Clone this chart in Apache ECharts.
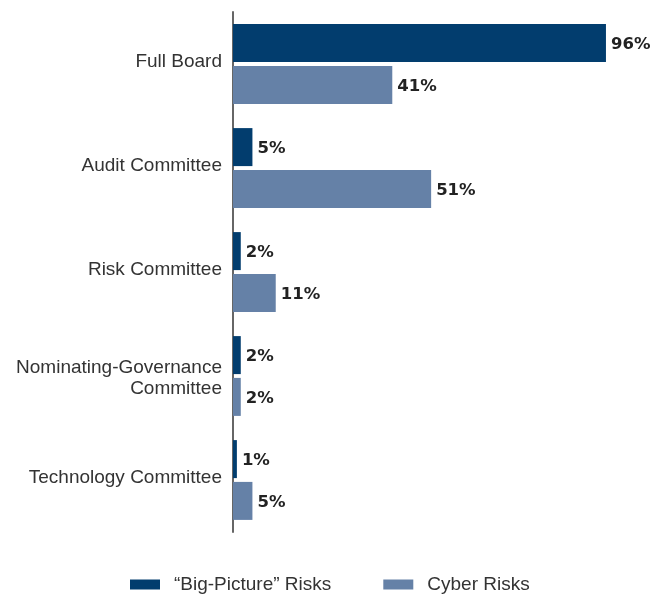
<!DOCTYPE html>
<html><head><meta charset="utf-8">
<script src="https://cdn.jsdelivr.net/npm/echarts@6/dist/echarts.min.js"></script>
<style>html,body{margin:0;padding:0;background:#fff}#c{width:664px;height:595px}</style>
</head><body><div id="c"></div>
<script>
const categories = ["Full Board", "Audit Committee", "Risk Committee", "Nominating-Governance\nCommittee", "Technology Committee"];
const bigPicture = [96, 5, 2, 2, 1];
const cyber = [41, 51, 11, 2, 5];
const seriesNames = ["\u201cBig-Picture\u201d Risks", "Cyber Risks"];
const font = "'Liberation Sans', Arial, sans-serif";
const valFont = "'DejaVu Sans', sans-serif";
const chart = echarts.init(document.getElementById('c'));
const lbl = {show: true, position: 'right', distance: 5, offset: [0, 2], formatter: '{c}%', fontFamily: valFont, fontSize: 16.5, fontWeight: 'bold', color: '#222'};
chart.setOption({
  animation: false,
  textStyle: {fontFamily: font},
  grid: {left: 233, right: 42.5, top: 12, bottom: 63},
  legend: {top: 570, left: 125, itemWidth: 30, itemHeight: 10, itemGap: 52, icon: 'rect',
    textStyle: {fontFamily: font, fontSize: 19, color: '#333', padding: [0, 0, 0, 9]}, data: seriesNames},
  xAxis: {type: 'value', min: 0, max: 100, show: false},
  yAxis: {type: 'category', inverse: true, data: categories,
    axisLine: {lineStyle: {color: '#666', width: 2}}, axisTick: {show: false},
    axisLabel: {margin: 11, fontFamily: font, fontSize: 19, color: '#333', lineHeight: 21, padding: [5, 0, 0, 0],
      formatter: v => v.indexOf('\n') >= 0 ? v : '{a|' + v + '}',
      rich: {a: {fontFamily: font, fontSize: 19, color: '#333', padding: [0, 0, 10, 0]}}}},
  series: [
    {name: seriesNames[0], type: 'bar', data: bigPicture, barWidth: 38, barGap: '10%', itemStyle: {color: '#023d6e'}, label: lbl},
    {name: seriesNames[1], type: 'bar', data: cyber, barWidth: 38, itemStyle: {color: '#6581a7'}, label: lbl}
  ]
});
</script></body></html>
